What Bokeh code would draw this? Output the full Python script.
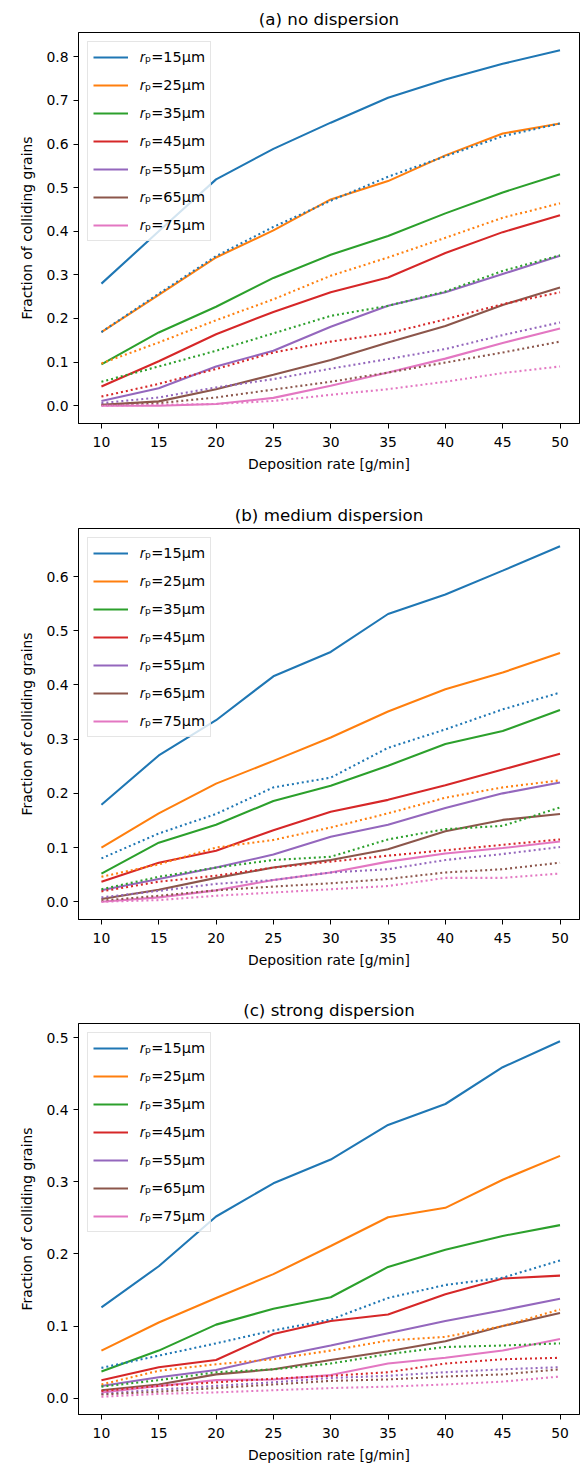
from bokeh.plotting import figure
from bokeh.layouts import column
from bokeh.models import Range1d, FixedTicker, NumeralTickFormatter, Legend, LegendItem
from bokeh.embed import file_html
from bokeh.resources import INLINE

# Deposition rate [g/min]
deposition = [10, 15, 20, 25, 30, 35, 40, 45, 50]
radii = [15, 25, 35, 45, 55, 65, 75]
colors = ["#1f77b4", "#ff7f0e", "#2ca02c", "#d62728", "#9467bd", "#8c564b", "#e377c2"]
titles = ["(a) no dispersion", "(b) medium dispersion", "(c) strong dispersion"]

# (a) no dispersion
a_solid = [
    [0.280, 0.400, 0.519, 0.589, 0.649, 0.706, 0.748, 0.784, 0.815],
    [0.169, 0.254, 0.340, 0.402, 0.473, 0.515, 0.574, 0.624, 0.647],
    [0.095, 0.168, 0.227, 0.293, 0.346, 0.389, 0.441, 0.489, 0.531],
    [0.044, 0.102, 0.164, 0.215, 0.260, 0.294, 0.350, 0.398, 0.437],
    [0.011, 0.040, 0.090, 0.126, 0.181, 0.229, 0.260, 0.302, 0.344],
    [0.002, 0.010, 0.038, 0.071, 0.105, 0.145, 0.183, 0.231, 0.271],
    [0.000, 0.000, 0.004, 0.018, 0.046, 0.076, 0.108, 0.144, 0.177],
]
a_dotted = [
    [0.169, 0.257, 0.343, 0.410, 0.470, 0.525, 0.572, 0.618, 0.647],
    [0.097, 0.145, 0.196, 0.244, 0.298, 0.340, 0.385, 0.431, 0.464],
    [0.055, 0.090, 0.126, 0.166, 0.206, 0.229, 0.262, 0.309, 0.345],
    [0.021, 0.050, 0.084, 0.122, 0.147, 0.166, 0.198, 0.233, 0.260],
    [0.006, 0.019, 0.042, 0.061, 0.085, 0.107, 0.130, 0.162, 0.191],
    [0.002, 0.006, 0.019, 0.037, 0.055, 0.076, 0.099, 0.122, 0.147],
    [0.000, 0.002, 0.004, 0.011, 0.025, 0.038, 0.055, 0.075, 0.090],
]

# (b) medium dispersion
b_solid = [
    [0.179, 0.270, 0.335, 0.416, 0.461, 0.531, 0.567, 0.611, 0.656],
    [0.100, 0.163, 0.218, 0.260, 0.303, 0.351, 0.392, 0.423, 0.459],
    [0.052, 0.109, 0.142, 0.186, 0.214, 0.251, 0.291, 0.315, 0.354],
    [0.037, 0.072, 0.094, 0.132, 0.166, 0.188, 0.215, 0.244, 0.273],
    [0.021, 0.042, 0.063, 0.087, 0.120, 0.142, 0.173, 0.200, 0.220],
    [0.005, 0.022, 0.044, 0.063, 0.077, 0.097, 0.130, 0.151, 0.162],
    [0.000, 0.008, 0.021, 0.040, 0.054, 0.074, 0.089, 0.099, 0.111],
]
b_dotted = [
    [0.080, 0.126, 0.162, 0.211, 0.229, 0.284, 0.318, 0.355, 0.386],
    [0.046, 0.069, 0.100, 0.114, 0.137, 0.163, 0.192, 0.211, 0.224],
    [0.023, 0.046, 0.063, 0.077, 0.083, 0.115, 0.134, 0.140, 0.174],
    [0.019, 0.037, 0.048, 0.063, 0.074, 0.085, 0.095, 0.105, 0.115],
    [0.008, 0.020, 0.033, 0.040, 0.054, 0.060, 0.077, 0.088, 0.101],
    [0.002, 0.011, 0.021, 0.028, 0.034, 0.042, 0.054, 0.060, 0.072],
    [0.000, 0.003, 0.011, 0.017, 0.023, 0.029, 0.044, 0.044, 0.052],
]

# (c) strong dispersion
c_solid = [
    [0.126, 0.183, 0.252, 0.298, 0.331, 0.379, 0.408, 0.459, 0.495],
    [0.066, 0.105, 0.139, 0.172, 0.211, 0.251, 0.264, 0.303, 0.336],
    [0.037, 0.066, 0.102, 0.124, 0.140, 0.182, 0.206, 0.225, 0.240],
    [0.025, 0.043, 0.053, 0.089, 0.107, 0.116, 0.144, 0.166, 0.170],
    [0.017, 0.029, 0.039, 0.057, 0.073, 0.090, 0.107, 0.122, 0.138],
    [0.011, 0.019, 0.033, 0.040, 0.053, 0.065, 0.079, 0.100, 0.118],
    [0.008, 0.017, 0.025, 0.026, 0.032, 0.048, 0.056, 0.066, 0.082],
]
c_dotted = [
    [0.042, 0.059, 0.076, 0.094, 0.109, 0.139, 0.157, 0.167, 0.191],
    [0.019, 0.038, 0.047, 0.054, 0.066, 0.080, 0.085, 0.100, 0.123],
    [0.016, 0.025, 0.036, 0.040, 0.048, 0.061, 0.071, 0.073, 0.076],
    [0.010, 0.017, 0.022, 0.027, 0.031, 0.036, 0.048, 0.054, 0.056],
    [0.006, 0.012, 0.017, 0.022, 0.028, 0.031, 0.036, 0.040, 0.043],
    [0.005, 0.009, 0.014, 0.019, 0.024, 0.026, 0.030, 0.033, 0.040],
    [0.002, 0.006, 0.008, 0.011, 0.014, 0.016, 0.019, 0.023, 0.030],
]

y_ticks = [[0.0, 0.1, 0.2, 0.3, 0.4, 0.5, 0.6, 0.7, 0.8],
           [0.0, 0.1, 0.2, 0.3, 0.4, 0.5, 0.6],
           [0.0, 0.1, 0.2, 0.3, 0.4, 0.5]]
x_ticks = [10, 15, 20, 25, 30, 35, 40, 45, 50]

FONT = "DejaVu Sans"


def make_panel(title, solid, dotted, yticks, h, top, bottom):
    ymax = max(max(r) for r in solid + dotted)
    ymin = min(min(r) for r in solid + dotted)
    pad = 0.05 * (ymax - ymin)
    p = figure(width=582, height=h, output_backend="svg", toolbar_location=None,
               x_range=Range1d(8, 51.7), y_range=Range1d(ymin - pad, ymax + pad),
               min_border_left=78, min_border_right=3, min_border_top=top,
               min_border_bottom=bottom)
    p.title.text = title
    p.title.align = "center"
    p.title.text_font = FONT
    p.title.text_font_size = "16.7px"
    p.title.text_font_style = "normal"
    p.title.text_color = "black"
    p.title.standoff = 8
    p.xgrid.visible = False
    p.ygrid.visible = False
    p.outline_line_color = "black"
    p.outline_line_width = 1
    p.outline_line_alpha = 1
    p.background_fill_color = "white"
    p.border_fill_color = "white"

    for ax in (p.xaxis[0], p.yaxis[0]):
        ax.axis_line_color = "black"
        ax.axis_line_width = 1
        ax.major_tick_line_color = "black"
        ax.major_tick_line_width = 1
        ax.major_tick_out = 5
        ax.major_tick_in = 0
        ax.minor_tick_line_color = None
        ax.major_label_text_font = FONT
        ax.major_label_text_font_size = "13.9px"
        ax.major_label_text_color = "black"
        ax.axis_label_text_font = FONT
        ax.axis_label_text_font_size = "13.9px"
        ax.axis_label_text_font_style = "normal"
        ax.axis_label_text_color = "black"
        ax.major_label_standoff = 5
    p.xaxis[0].major_label_standoff = 8
    p.xaxis[0].ticker = FixedTicker(ticks=x_ticks)
    p.yaxis[0].ticker = FixedTicker(ticks=yticks)
    p.yaxis[0].formatter = NumeralTickFormatter(format="0.0")
    p.xaxis[0].axis_label = "Deposition rate [g/min]"
    p.yaxis[0].axis_label = "Fraction of colliding grains"
    p.xaxis[0].axis_label_standoff = 6
    p.yaxis[0].axis_label_standoff = 8

    items = []
    for r, col, ys in zip(radii, colors, solid):
        rend = p.line(deposition, ys, line_color=col, line_width=2.08)
        items.append(LegendItem(label=f"\U0001D45F\u209A={r}\u03BCm", renderers=[rend]))
    for col, ys in zip(colors, dotted):
        p.line(deposition, ys, line_color=col, line_width=2.08, line_dash="2 3")

    leg = Legend(items=items, location="top_left", margin=9, padding=5,
                 spacing=8, glyph_height=20, glyph_width=35, label_height=20,
                 label_standoff=12, label_text_font=FONT, label_text_font_size="14.5px",
                 label_text_color="black", border_line_color="#cccccc",
                 border_line_width=1, background_fill_color="white",
                 background_fill_alpha=0.8)
    p.add_layout(leg, "center")
    return p


panels = [
    make_panel(titles[0], a_solid, a_dotted, y_ticks[0], 496, 32, 73),
    make_panel(titles[1], b_solid, b_dotted, y_ticks[1], 495, 32, 72),
    make_panel(titles[2], c_solid, c_dotted, y_ticks[2], 475, 32, 52),
]
layout = column(*panels, spacing=0)

open("out.html", "w").write(file_html(layout, INLINE))
